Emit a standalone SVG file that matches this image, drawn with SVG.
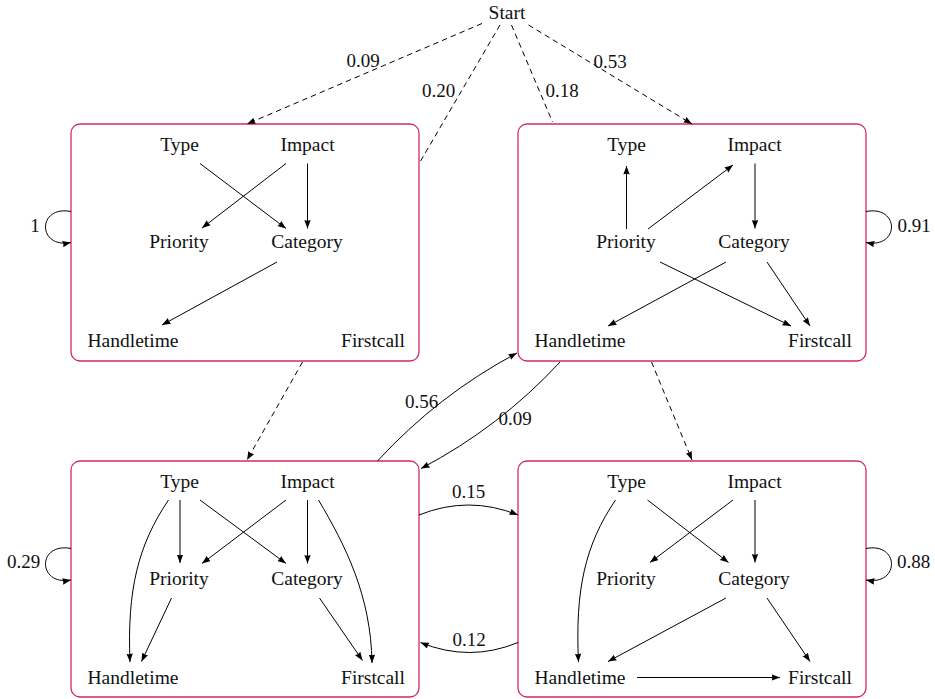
<svg xmlns="http://www.w3.org/2000/svg" width="935" height="699" viewBox="0 0 935 699">
<style>
  text { font-family: "Liberation Serif", "Times New Roman", serif; font-size: 19px; fill: #111; text-anchor: middle; }
  .n { font-size: 19.5px; }
  .box { fill: #fff; stroke: #d12c5f; stroke-width: 1.3; }
  .e { fill: none; stroke: #000; stroke-width: 1; marker-end: url(#ah); }
  .d { fill: none; stroke: #000; stroke-width: 1; stroke-dasharray: 5.5 4; }
  .da { marker-end: url(#ah); }
</style>
<defs>
  <marker id="ah" markerUnits="userSpaceOnUse" markerWidth="9" markerHeight="7" refX="8.5" refY="3.2" orient="auto">
    <path d="M0,0 L8.5,3.2 L0,6.4 Q1.5,3.2 0,0 z" fill="#000"/>
  </marker>
</defs>

<rect x="0" y="0" width="935" height="699" fill="#fff"/>

<g id="start"><text class="n" x="507" y="19">Start</text></g>

<g id="boxA">
  <rect class="box" x="71" y="124" width="348" height="237" rx="9"/>
  <text class="n" x="179.5" y="151">Type</text>
  <text class="n" x="307.5" y="151">Impact</text>
  <text class="n" x="179" y="248">Priority</text>
  <text class="n" x="307" y="248">Category</text>
  <text class="n" x="133" y="347">Handletime</text>
  <text class="n" x="373" y="347">Firstcall</text>
  <path class="e" d="M200,163.5 L286,228.5"/>
  <path class="e" d="M286,163.5 L202,228"/>
  <path class="e" d="M307.5,163.5 L307.5,228.5"/>
  <path class="e" d="M277,262 L162,325"/>
</g>

<g id="boxB">
  <rect class="box" x="518" y="124" width="348" height="237" rx="9"/>
  <text class="n" x="626.5" y="151">Type</text>
  <text class="n" x="754.5" y="151">Impact</text>
  <text class="n" x="626" y="248">Priority</text>
  <text class="n" x="754" y="248">Category</text>
  <text class="n" x="580" y="347">Handletime</text>
  <text class="n" x="820" y="347">Firstcall</text>
  <path class="e" d="M626.5,229 L626.5,166"/>
  <path class="e" d="M648,229 L733,165"/>
  <path class="e" d="M755,163.5 L755,228.5"/>
  <path class="e" d="M726,262 L608,326"/>
  <path class="e" d="M660,262 L791,326"/>
  <path class="e" d="M767,262 L810,326"/>
</g>

<g id="boxC">
  <rect class="box" x="71" y="461" width="348" height="236" rx="9"/>
  <text class="n" x="179.5" y="488">Type</text>
  <text class="n" x="307.5" y="488">Impact</text>
  <text class="n" x="179" y="585">Priority</text>
  <text class="n" x="307" y="585">Category</text>
  <text class="n" x="133" y="684">Handletime</text>
  <text class="n" x="373" y="684">Firstcall</text>
  <path class="e" d="M168.5,500 C138,545 127,590 130,662"/>
  <path class="e" d="M180,500 L180,563"/>
  <path class="e" d="M200,500 L286,563.5"/>
  <path class="e" d="M286,500 L202,563.5"/>
  <path class="e" d="M307.5,500 L307.5,563.5"/>
  <path class="e" d="M318.5,500 C345,545 371,595 372,663"/>
  <path class="e" d="M171.5,598 L141.5,661.5"/>
  <path class="e" d="M319.5,598 L362.5,660.5"/>
</g>

<g id="boxD">
  <rect class="box" x="518" y="461" width="348" height="236" rx="9"/>
  <text class="n" x="626.5" y="488">Type</text>
  <text class="n" x="754.5" y="488">Impact</text>
  <text class="n" x="626" y="585">Priority</text>
  <text class="n" x="754" y="585">Category</text>
  <text class="n" x="580" y="684">Handletime</text>
  <text class="n" x="820" y="684">Firstcall</text>
  <path class="e" d="M615.5,500 C585,545 575,590 578.5,662"/>
  <path class="e" d="M647.5,500 L728.5,562.5"/>
  <path class="e" d="M733,500 L650,562.5"/>
  <path class="e" d="M755,500 L755,562.5"/>
  <path class="e" d="M726,598 L608,661.5"/>
  <path class="e" d="M767,598 L810,661.5"/>
  <path class="e" d="M637,677.5 L780,677.5"/>
</g>

<g id="connectors">
  <path class="d da" d="M482,23.5 L247,124"/>
  <path class="d" d="M500,25 L420,162"/>
  <path class="d" d="M511.5,25 L552.5,122"/>
  <path class="d da" d="M528.5,25 L692,124"/>
  <path class="d da" d="M302.5,362 L247,460"/>
  <path class="d da" d="M651.5,362 L692,460"/>
  <path class="e" d="M377.5,461 Q438,395 517,353"/>
  <path class="e" d="M560,362 Q500,427 421,468.5"/>
  <path class="e" d="M419,515 Q468.5,495 518,515"/>
  <path class="e" d="M518,642.5 Q469.5,662.5 420.5,642.5"/>
  <path class="e" d="M71,211.5 C37,205 37,249 71,242.5"/>
  <path class="e" d="M866,211.5 C900,205 900,249 866,242.5"/>
  <path class="e" d="M71,548.5 C37,542 37,586 71,580"/>
  <path class="e" d="M866,548.5 C900,542 900,586 866,580"/>
</g>

<g id="labels">
  <text x="363" y="67">0.09</text>
  <text x="438.5" y="97">0.20</text>
  <text x="562" y="97">0.18</text>
  <text x="610" y="68">0.53</text>
  <text x="35" y="232">1</text>
  <text x="914" y="232">0.91</text>
  <text x="421.5" y="408">0.56</text>
  <text x="515" y="425">0.09</text>
  <text x="468.5" y="498">0.15</text>
  <text x="469" y="646">0.12</text>
  <text x="23.5" y="568">0.29</text>
  <text x="913.5" y="568">0.88</text>
</g>
</svg>
